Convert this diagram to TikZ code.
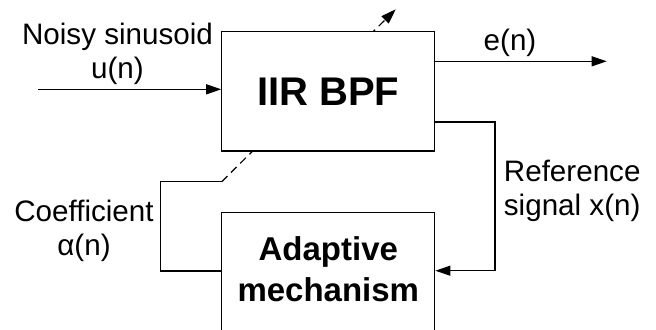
\documentclass[tikz,border=0pt]{standalone}
\usepackage{fontspec}
\setmainfont{Liberation Sans}
\usetikzlibrary{arrows.meta}

\tikzstyle{block} = [draw, fill=white, line width=0.6pt, minimum width=106.5pt, inner sep=0pt]
\tikzstyle{lbl} = [align=center, inner sep=0pt, font=\fontsize{14.8}{17}\selectfont]
\tikzstyle{sig} = [line width=0.6pt, -{Triangle[length=7.5pt, width=5pt]}]

\begin{document}
\begin{tikzpicture}[x=0.5pt, y=-0.5pt]
\path[use as bounding box, clip] (0,0) rectangle (656,329);

% tuning arrow through the filter
\coordinate (tune) at (221.7,181.7);
\coordinate (tip) at (395.7,9.3);
\draw[sig, dash pattern=on 4pt off 2.5pt] (tune) -- (tip);

% blocks
\node[block, minimum height=59.7pt, font=\bfseries\fontsize{20}{24}\selectfont] (iir) at (328.3,91.3) {IIR BPF};
\node[block, minimum height=65pt, anchor=north] (adbox) at (328.3,211.7) {};
\node[align=center, inner sep=0pt, font=\bfseries\fontsize{16.5}{20.85}\selectfont] (adlbl) at (328.3,269.2) {Adaptive\\mechanism};

% input
\coordinate (in) at (38.3,89.3);
\draw[sig] (in) -- (in -| iir.west);
\node[lbl] (noisy) at (117.5,53.4) {Noisy sinusoid\\u(n)};

% output
\coordinate (out) at (606.7,61.3);
\draw[sig] (iir.east |- out) -- (out);
\node[lbl] (err) at (510,43) {e(n)};

% reference loop
\coordinate (rt) at (495,122);
\coordinate (rb) at (495,270.7);
\draw[sig] (iir.east |- rt) -- (rt) -- (rb) -- (rb -| adbox.east);
\node[lbl] (ref) at (572.2,190.5) {Reference\\signal x(n)};

% coefficient loop
\coordinate (cl) at (160.7,181.7);
\coordinate (cb) at (160.7,271);
\draw[line width=0.6pt] (tune) -- (cl) -- (cb) -- (cb -| adbox.west);
\node[lbl] (coef) at (84,231) {Coefficient\\α(n)};
\end{tikzpicture}
\end{document}
